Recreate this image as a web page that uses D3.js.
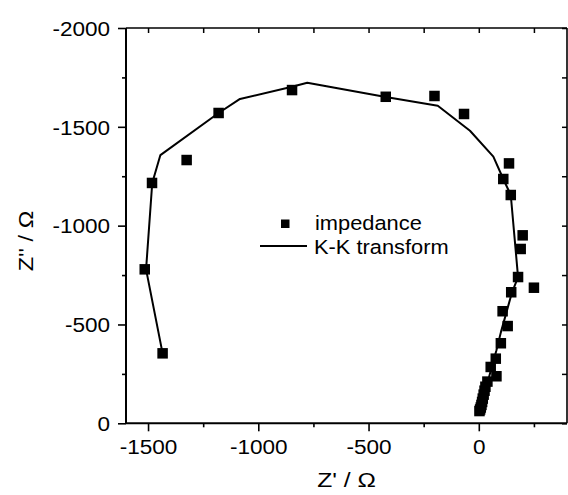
<!DOCTYPE html>
<html>
<head>
<meta charset="utf-8">
<script src="https://cdn.jsdelivr.net/npm/d3@7"></script>
<style>
  body { margin: 0; background: #fff; }
  svg text { font-family: "Liberation Sans", Arial, sans-serif; fill: #000; }
</style>
</head>
<body>
<div id="chart"></div>
<script>
// impedance data (Z' and Z'' in ohm)
var zReal = [-1434, -1515, -1482, -1325, -1180, -847, -422, -201, -67, 137, 111, 145,
             199, 190, 178, 250, 147, 108, 131, 100, 77, 54, 80, 39,
             30, 26, 22, 18, 15, 12, 9, 6, 3];
var zImag = [-354, -779, -1216, -1332, -1570, -1686, -1652, -1656, -1565, -1315, -1236, -1155,
             -951, -882, -740, -686, -663, -567, -492, -405, -327, -285, -238, -211,
             -185, -165, -145, -125, -108, -93, -80, -70, -62];

// K-K transform curve
var kkReal = [-1434, -1509, -1481, -1444, -1180, -1083, -847, -778, -422, -186, -40, 66,
              111, 145, 178, 150, 125, 100, 80, 60, 42, 28, 15, 5];
var kkImag = [-354, -779, -1216, -1357, -1570, -1641, -1703, -1723, -1651, -1607, -1480, -1349,
              -1236, -1155, -740, -660, -560, -460, -370, -290, -215, -150, -95, -52];

var xMajor = [-1500, -1000, -500, 0];
var xMinor = [-1250, -750, -250, 250];
var yMajor = [0, -500, -1000, -1500, -2000];
var yMinor = [-250, -750, -1250, -1750];

var legendLabels = ["impedance", "K-K transform"];

var width = 568, height = 495;
// plot box (window.top is reserved, so use a margin object)
var box = {left: 126, right: 567, top: 28, bottom: 423.3};
var sx = 1.1;   // text looks a little wide in the original

var svg = d3.select("#chart").append("svg")
    .attr("width", width)
    .attr("height", height);

var x = d3.scaleLinear().domain([-1600, 400]).range([box.left, box.right]);
var y = d3.scaleLinear().domain([0, -2000]).range([box.bottom, box.top]);

// frame: mirrored top and right axes with inward ticks
svg.append("g")
    .attr("transform", "translate(0," + box.top + ")")
    .call(d3.axisBottom(x).tickValues(xMajor.concat(xMinor)).tickSize(5).tickFormat(""))
    .call(function(g) { g.select(".domain").attr("stroke-width", 1.6).attr("d", "M" + box.left + ",0H" + box.right); })
    .selectAll("line").attr("stroke-width", 1.5);

svg.append("g")
    .attr("transform", "translate(" + box.right + ",0)")
    .call(d3.axisLeft(y).tickValues(yMajor.concat(yMinor)).tickSize(5).tickFormat(""))
    .call(function(g) { g.select(".domain").attr("stroke-width", 1.6).attr("d", "M0," + box.top + "V" + box.bottom); })
    .selectAll("line").attr("stroke-width", 1.5);

// bottom axis
var xAxis = svg.append("g")
    .attr("transform", "translate(0," + box.bottom + ")")
    .call(d3.axisBottom(x).tickValues(xMajor).tickSize(8).tickFormat(function(d) { return String(d); }));
xAxis.select(".domain").attr("stroke-width", 2).attr("d", "M" + box.left + ",0H" + box.right);
xAxis.selectAll("line").attr("stroke-width", 1.6);
xAxis.selectAll("text")
    .attr("y", 30.5).attr("dy", 0)
    .attr("font-size", 20.5)
    .attr("transform", "scale(" + sx + ",1)");

svg.append("g")
    .attr("transform", "translate(0," + box.bottom + ")")
    .call(d3.axisBottom(x).tickValues(xMinor).tickSize(4).tickFormat(""))
    .call(function(g) { g.select(".domain").remove(); })
    .selectAll("line").attr("stroke-width", 1.6);

// left axis
var yAxis = svg.append("g")
    .attr("transform", "translate(" + box.left + ",0)")
    .call(d3.axisLeft(y).tickValues(yMajor).tickSize(8).tickFormat(function(d) { return String(d); }));
yAxis.select(".domain").attr("stroke-width", 2).attr("d", "M0," + box.top + "V" + box.bottom);
yAxis.selectAll("line").attr("stroke-width", 1.6);
yAxis.selectAll("text")
    .attr("x", -14.5).attr("dy", "0.35em")
    .attr("font-size", 20.5)
    .attr("transform", "scale(" + sx + ",1)");

svg.append("g")
    .attr("transform", "translate(" + box.left + ",0)")
    .call(d3.axisLeft(y).tickValues(yMinor).tickSize(4).tickFormat(""))
    .call(function(g) { g.select(".domain").remove(); })
    .selectAll("line").attr("stroke-width", 1.6);

// axis titles
svg.append("text")
    .attr("transform", "translate(" + ((box.left + box.right) / 2) + ",487) scale(1.2,1)")
    .attr("text-anchor", "middle")
    .attr("font-size", 20.5)
    .text("Z' / \u03A9");

svg.append("text")
    .attr("transform", "translate(33,241) rotate(-90) scale(1.15,1)")
    .attr("text-anchor", "middle")
    .attr("font-size", 20.5)
    .text("Z'' / \u03A9");

// K-K line
var kk = kkReal.map(function(d, i) { return [d, kkImag[i]]; });
var line = d3.line()
    .x(function(d) { return x(d[0]); })
    .y(function(d) { return y(d[1]); });

svg.append("path")
    .datum(kk)
    .attr("fill", "none")
    .attr("stroke", "#000")
    .attr("stroke-width", 2)
    .attr("stroke-linejoin", "round")
    .attr("d", line);

// impedance markers
var pts = zReal.map(function(d, i) { return [d, zImag[i]]; });
var ms = 10.5;
svg.append("g").selectAll("rect")
    .data(pts)
    .enter().append("rect")
    .attr("x", function(d) { return x(d[0]) - ms / 2; })
    .attr("y", function(d) { return y(d[1]) - ms / 2; })
    .attr("width", ms)
    .attr("height", ms)
    .attr("fill", "#000");

// legend
var lg = svg.append("g");
lg.append("rect")
    .attr("x", 281).attr("y", 219.5)
    .attr("width", 8.5).attr("height", 8.5)
    .attr("fill", "#000");
lg.append("text")
    .attr("transform", "translate(315,230) scale(1.12,1)")
    .attr("font-size", 19.5)
    .text(legendLabels[0]);
lg.append("line")
    .attr("x1", 260).attr("x2", 307)
    .attr("y1", 246).attr("y2", 246)
    .attr("stroke", "#000")
    .attr("stroke-width", 2);
lg.append("text")
    .attr("transform", "translate(314,253.5) scale(1.12,1)")
    .attr("font-size", 19.5)
    .text(legendLabels[1]);
</script>
</body>
</html>
